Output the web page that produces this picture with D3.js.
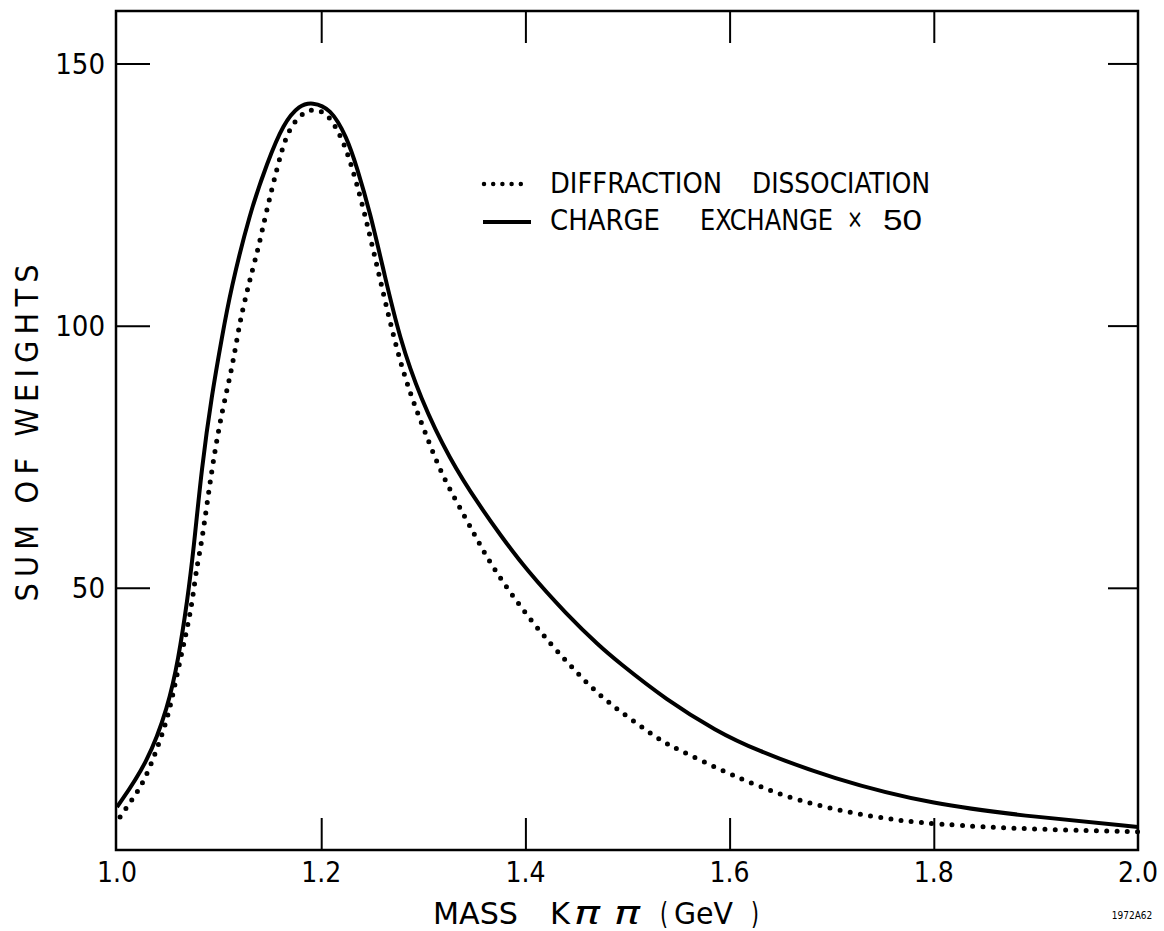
<!DOCTYPE html>
<html lang="en">
<head>
    <meta charset="UTF-8">
    <title>Sum of weights vs K pi pi mass</title>
    <script src="https://d3js.org/d3.v7.min.js"></script>
    <style>
        body { margin: 0; background: #fff; }
        text { font-family: "Liberation Sans Narrow", "DejaVu Sans Condensed", "Liberation Sans", sans-serif; fill: #000; }
    </style>
</head>
<body>

    <script>

        // tick values
        var massTicks = [1.0, 1.2, 1.4, 1.6, 1.8, 2.0];
        var massLabels = ["1.0", "1.2", "1.4", "1.6", "1.8", "2.0"];
        var weightTicks = [50, 100, 150];

        // charge exchange x 50 (solid line)
        var chargeMass = [1.000, 1.030, 1.050, 1.060, 1.069, 1.075, 1.083, 1.093, 1.103, 1.111,
                          1.130, 1.147, 1.163, 1.179, 1.191, 1.209, 1.225, 1.235, 1.248, 1.262,
                          1.277, 1.297, 1.326, 1.356, 1.375, 1.401, 1.441, 1.473, 1.490, 1.538,
                          1.588, 1.623, 1.700, 1.800, 1.900, 2.000];
        var chargeWeight = [8.2, 16.6, 27.3, 36.2, 47.7, 57.2, 73.0, 87.0, 98.0, 106.5,
                            121.5, 131.0, 138.6, 142.1, 142.6, 141.5, 136.0, 130.2, 121.5, 109.7,
                            97.5, 86.2, 74.4, 65.4, 60.2, 53.4, 44.8, 38.8, 36.0, 28.6,
                            22.6, 19.3, 13.6, 8.6, 6.3, 4.4];

        // diffraction dissociation (dotted line)
        var diffMass = [1.003, 1.016, 1.027, 1.039, 1.050, 1.057, 1.064, 1.069, 1.074, 1.078,
                        1.083, 1.093, 1.103, 1.113, 1.120, 1.127, 1.132, 1.138, 1.147, 1.157,
                        1.166, 1.179, 1.192, 1.206, 1.216, 1.225, 1.235, 1.245, 1.258, 1.274,
                        1.287, 1.302, 1.319, 1.341, 1.357, 1.375, 1.408, 1.442, 1.472, 1.502,
                        1.533, 1.544, 1.600, 1.666, 1.744, 1.800, 1.900, 2.000];
        var diffWeight = [6.3, 9.9, 13.3, 19.1, 25.4, 31.8, 38.1, 42.5, 47.7, 54.0,
                          58.5, 73.0, 83.9, 92.1, 100.5, 106.2, 110.2, 114.4, 122.4, 130.2,
                          136.7, 140.2, 141.5, 140.5, 137.3, 133.5, 127.0, 119.5, 108.5, 95.3,
                          87.1, 79.5, 71.1, 63.5, 57.6, 51.8, 43.0, 35.5, 29.5, 25.1,
                          20.8, 19.7, 14.4, 9.2, 6.1, 4.9, 3.9, 3.5];

        var width = 1164;
        var height = 931;
        var plotLeft = 117, plotRight = 1138, plotTop = 11, plotBottom = 850;

        var x = d3.scaleLinear().domain([1.0, 2.0]).range([plotLeft, plotRight]);
        var y = d3.scaleLinear().domain([0, 160]).range([plotBottom, plotTop]);

        var svg = d3.select("body")
            .append("svg")
            .attr("width", width)
            .attr("height", height);

        // ticks on all four sides, pointing inward
        svg.append("g")
            .attr("transform", "translate(0," + plotBottom + ")")
            .call(d3.axisBottom(x).tickValues(massTicks.slice(1, -1)).tickSize(-32).tickFormat(""));
        svg.append("g")
            .attr("transform", "translate(0," + plotTop + ")")
            .call(d3.axisTop(x).tickValues(massTicks.slice(1, -1)).tickSize(-32).tickFormat(""));
        svg.append("g")
            .attr("transform", "translate(" + plotLeft + ",0)")
            .call(d3.axisLeft(y).tickValues(weightTicks).tickSize(-33).tickFormat(""));
        svg.append("g")
            .attr("transform", "translate(" + plotRight + ",0)")
            .call(d3.axisRight(y).tickValues(weightTicks).tickSize(-30).tickFormat(""));

        svg.selectAll(".domain").remove();
        svg.selectAll(".tick line").attr("stroke", "#000").attr("stroke-width", 2);

        // frame
        svg.append("rect")
            .attr("x", plotLeft - 1)
            .attr("y", plotTop)
            .attr("width", plotRight - plotLeft + 1)
            .attr("height", plotBottom - plotTop)
            .attr("fill", "none")
            .attr("stroke", "#000")
            .attr("stroke-width", 2.5);

        // tick labels
        svg.selectAll(".xlab")
            .data(massTicks)
            .enter()
                .append("text")
                .attr("class", "xlab")
                .attr("x", function (d) { return x(d); })
                .attr("y", 882)
                .attr("text-anchor", "middle")
                .attr("font-size", 28)
                .text(function (d, i) { return massLabels[i]; });

        svg.selectAll(".ylab")
            .data(weightTicks)
            .enter()
                .append("text")
                .attr("class", "ylab")
                .attr("x", 105)
                .attr("y", function (d) { return y(d); })
                .attr("dy", "0.36em")
                .attr("text-anchor", "end")
                .attr("font-size", 29)
                .text(function (d) { return d; });

        // curves
        var line = d3.line()
            .x(function (d) { return x(d[0]); })
            .y(function (d) { return y(d[1]); })
            .curve(d3.curveBasis);

        svg.append("path")
            .datum(d3.zip(diffMass, diffWeight))
            .attr("d", line)
            .attr("fill", "none")
            .attr("stroke", "#000")
            .attr("stroke-width", 5)
            .attr("stroke-linecap", "round")
            .attr("stroke-dasharray", "0 10.3");

        svg.append("path")
            .datum(d3.zip(chargeMass, chargeWeight))
            .attr("d", line)
            .attr("fill", "none")
            .attr("stroke", "#000")
            .attr("stroke-width", 4);

        // legend
        svg.append("line")
            .attr("x1", 484).attr("x2", 530)
            .attr("y1", 184).attr("y2", 184)
            .attr("stroke", "#000")
            .attr("stroke-width", 4.5)
            .attr("stroke-linecap", "round")
            .attr("stroke-dasharray", "0 9.2");
        svg.append("line")
            .attr("x1", 483).attr("x2", 531)
            .attr("y1", 222).attr("y2", 222)
            .attr("stroke", "#000")
            .attr("stroke-width", 4);

        function word(str, x0, x1, yb, size) {
            return svg.append("text")
                .attr("x", x0)
                .attr("y", yb)
                .attr("font-size", size)
                .attr("textLength", x1 - x0)
                .attr("lengthAdjust", "spacingAndGlyphs")
                .text(str);
        }

        word("DIFFRACTION", 550, 722, 193, 29);
        word("DISSOCIATION", 752, 930, 193, 29);
        word("CHARGE", 550, 660, 230, 29);
        word("EXCHANGE", 700, 833, 230, 29);
        word("\u00d7", 847, 863, 228, 26).style("font-family", "'DejaVu Sans'");
        word("50", 883, 922, 230, 29).style("font-family", "'Liberation Sans'");

        // x axis title
        word("MASS", 433, 518, 924, 31);
        word("K", 550, 570, 924, 31);
        word("\u03c0 \u03c0", 574, 640, 924, 31)
            .style("font-family", "'DejaVu Sans'")
            .style("font-style", "italic");
        word("(", 660, 668, 924, 31);
        word("GeV", 674, 733, 924, 31);
        word(")", 751, 759, 924, 31);

        // y axis title
        svg.append("text")
            .attr("transform", "translate(38,433) rotate(-90)")
            .attr("text-anchor", "middle")
            .attr("font-size", 32)
            .attr("textLength", 337)
            .attr("lengthAdjust", "spacing")
            .text("SUM OF WEIGHTS");

        svg.append("text")
            .attr("x", 1132)
            .attr("y", 919)
            .attr("text-anchor", "middle")
            .attr("font-size", 10)
            .text("1972A62");

    </script>

</body>
</html>
